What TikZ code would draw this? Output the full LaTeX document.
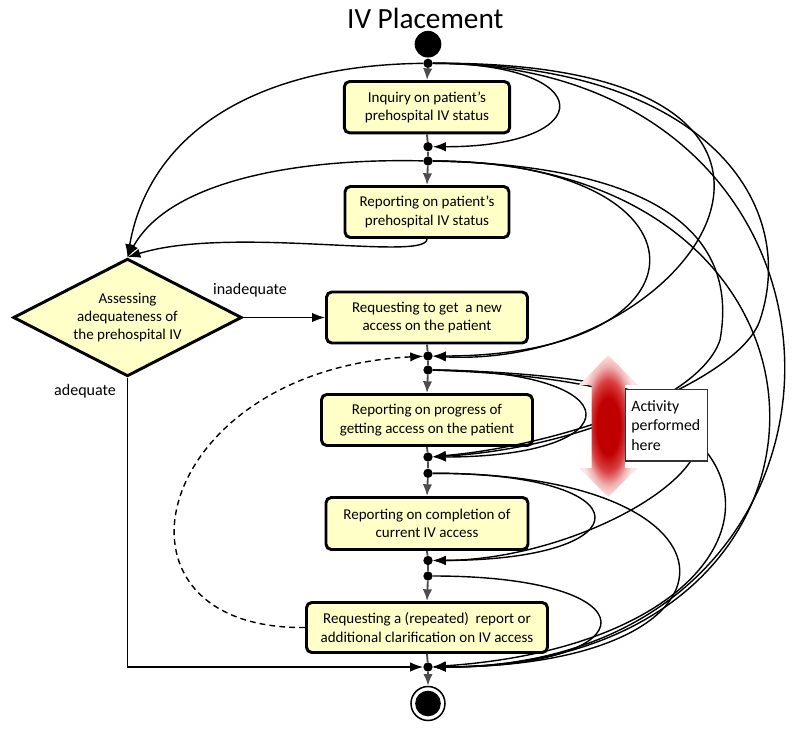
\documentclass[tikz,border=0pt]{standalone}
\usepackage{fontspec}
\setmainfont{Carlito}
\usetikzlibrary{arrows.meta,shapes.geometric}
\definecolor{boxfill}{RGB}{255,255,200}
\definecolor{gconn}{RGB}{77,77,77}
\definecolor{rdark}{RGB}{192,0,0}
\definecolor{rmid}{RGB}{216,64,64}
\definecolor{rpale}{RGB}{240,176,176}
\definecolor{rlight}{RGB}{251,228,228}
\pgfdeclareradialshading{redglow}{\pgfpointorigin}{color(0bp)=(rdark); color(10bp)=(rdark); color(16bp)=(rmid); color(21bp)=(rpale); color(25bp)=(rlight); color(50bp)=(rlight)}
\newcommand\boxfont{\fontsize{12.8}{15.6}\selectfont}
\newcommand\labfont{\fontsize{13.7}{16.5}\selectfont}
\begin{document}
\begin{tikzpicture}[x=0.03cm,y=-0.03cm,
  box/.style={draw,line width=2.5pt,rounded corners=4.5pt,fill=boxfill,align=center,font=\boxfont,inner sep=0pt},
  dot/.style={circle,fill=black,inner sep=0pt,minimum size=0.28cm},
  arr/.style={draw,line width=1.2pt,-{Latex[length=11pt,width=8pt]}},
  gline/.style={draw=gconn,line width=1.6pt},
  garr/.style={draw=gconn,line width=1.6pt,-{Latex[length=10pt,width=8pt]}},
  lab/.style={font=\labfont,anchor=base}]
\useasboundingbox (0,0) rectangle (800,729);

% title, start, end
\node[font=\fontsize{25}{30}\selectfont,anchor=base] (title) at (425.3,28.3) {IV Placement};
\node[circle,fill=black,minimum size=0.8cm,inner sep=0pt] (s) at (428,44.2) {};
\node[circle,draw,line width=1.3pt,minimum size=1.02cm,inner sep=0pt] (e) at (428,703.5) {};
\node[circle,fill=black,minimum size=0.77cm,inner sep=0pt] (ei) at (428,703.5) {};

% dots
\node[dot] (d0) at (428,63.3) {};
\node[dot] (d1) at (428,146.7) {};
\node[dot] (d2) at (428,161) {};
\node[dot] (d3) at (428,356) {};
\node[dot] (d4) at (428,370) {};
\node[dot] (d5) at (428,457) {};
\node[dot] (d6) at (428,473.3) {};
\node[dot] (d7) at (428,560.5) {};
\node[dot] (d8) at (428,576) {};
\node[dot] (d9) at (428,667) {};

% boxes
\node[box,minimum width=4.96cm,minimum height=1.54cm] (b1) at (427,107.2) {Inquiry on patient’s\\prehospital IV status};
\node[box,minimum width=4.92cm,minimum height=1.53cm] (b2) at (427,212) {Reporting on patient’s\\prehospital IV status};
\node[box,minimum width=6.03cm,minimum height=1.53cm] (b3) at (427,317.5) {Requesting to get\ \ a new\\access on the patient};
\node[box,minimum width=6.33cm,minimum height=1.53cm] (b4) at (427,420) {Reporting on progress of\\getting access on the patient};
\node[box,minimum width=6.06cm,minimum height=1.56cm] (b5) at (427,523.5) {Reporting on completion of\\current IV access};
\node[box,minimum width=7.23cm,minimum height=1.5cm] (b6) at (427,627.5) {Requesting a (repeated)\ \ report or\\additional clarification on IV access};
\node[diamond,draw,line width=2.5pt,fill=boxfill,aspect=2,inner sep=0pt,minimum width=6.86cm,minimum height=3.53cm,align=center,font=\boxfont] (dia) at (127.5,317.5) {Assessing\\adequateness of\\the prehospital IV};

% labels
\node[lab] (inad) at (250,294) {inadequate};
\node[lab] (adeq) at (85,395) {adequate};

% main flow (gray)
\draw[garr] (d0) -- (b1.north);
\draw[gline] (b1.south) -- (d1);
\draw[gline] (d1) -- (d2);
\draw[garr] (d2) -- (b2.north);
\draw[gline] (b3.south) -- (d3);
\draw[gline] (d3) -- (d4);
\draw[garr] (d4) -- (b4.north);
\draw[gline] (b4.south) -- (d5);
\draw[gline] (d5) -- (d6);
\draw[garr] (d6) -- (b5.north);
\draw[gline] (b5.south) -- (d7);
\draw[gline] (d7) -- (d8);
\draw[garr] (d8) -- (b6.north);
\draw[gline] (b6.south) -- (d9);
\draw[garr] (d9) -- (e);

% diamond connections
\draw[arr] (dia.east) -- (b3.west);
\draw[arr] (dia.south) |- (d9);
\draw[arr] (d0) .. controls (260,65) and (150,130) .. (dia.north);
\draw[arr] (d2) .. controls (300,158) and (170,180) .. (dia.north);
\draw[arr] (b2.south) .. controls (427,262) and (230,225) .. (dia.north);
\draw[arr,dash pattern=on 5pt off 3.5pt] (b6.west) .. controls (90,630) and (150,370) .. (d3);

% skip loops on the right
\draw[arr] (d0) .. controls (600,63) and (600,147) .. (d1);
\draw[arr] (d0) .. controls (900,60) and (700,370) .. (d3);
\draw[arr] (d0) .. controls (900,63) and (900,667) .. (d9);
\draw[arr] (d0) .. controls (700,63) and (800,200) .. (760,320) .. controls (740,380) and (570,445) .. (d5);
\draw[arr] (d2) .. controls (720,161) and (720,356) .. (d3);
\draw[arr] (d2) .. controls (650,165) and (740,230) .. (720,340) .. controls (700,400) and (560,450) .. (d5);
\draw[arr] (d2) .. controls (880,161) and (880,667) .. (d9);
\draw[arr] (d4) .. controls (635,370) and (635,457) .. (d5);
\draw[arr] (d4) .. controls (560,372) and (700,390) .. (700,435) .. controls (700,490) and (560,560) .. (d7);
\draw[arr] (d4) .. controls (560,374) and (690,395) .. (705,450) .. controls (770,530) and (680,650) .. (d9);
\draw[arr] (d6) .. controls (647,473) and (647,560) .. (d7);
\draw[arr] (d6) .. controls (760,473) and (760,667) .. (d9);
\draw[arr] (d8) .. controls (655,576) and (655,667) .. (d9);

% red double arrow and note
\shade[shading=redglow] (608.3,355) -- (637.6,385) -- (625,385) -- (625,468) -- (637.6,468) -- (608.3,497) -- (579,468) -- (591.7,468) -- (591.7,385) -- (579,385) -- cycle;
\node[draw=black!80,line width=1.3pt,fill=white,minimum width=2.46cm,minimum height=2.14cm,text width=2.12cm,inner xsep=0.17cm,inner ysep=0pt,align=left,font=\fontsize{13.5}{16.7}\selectfont] (act) at (666.7,425.3) {Activity\\performed\\here};
\end{tikzpicture}
\end{document}
